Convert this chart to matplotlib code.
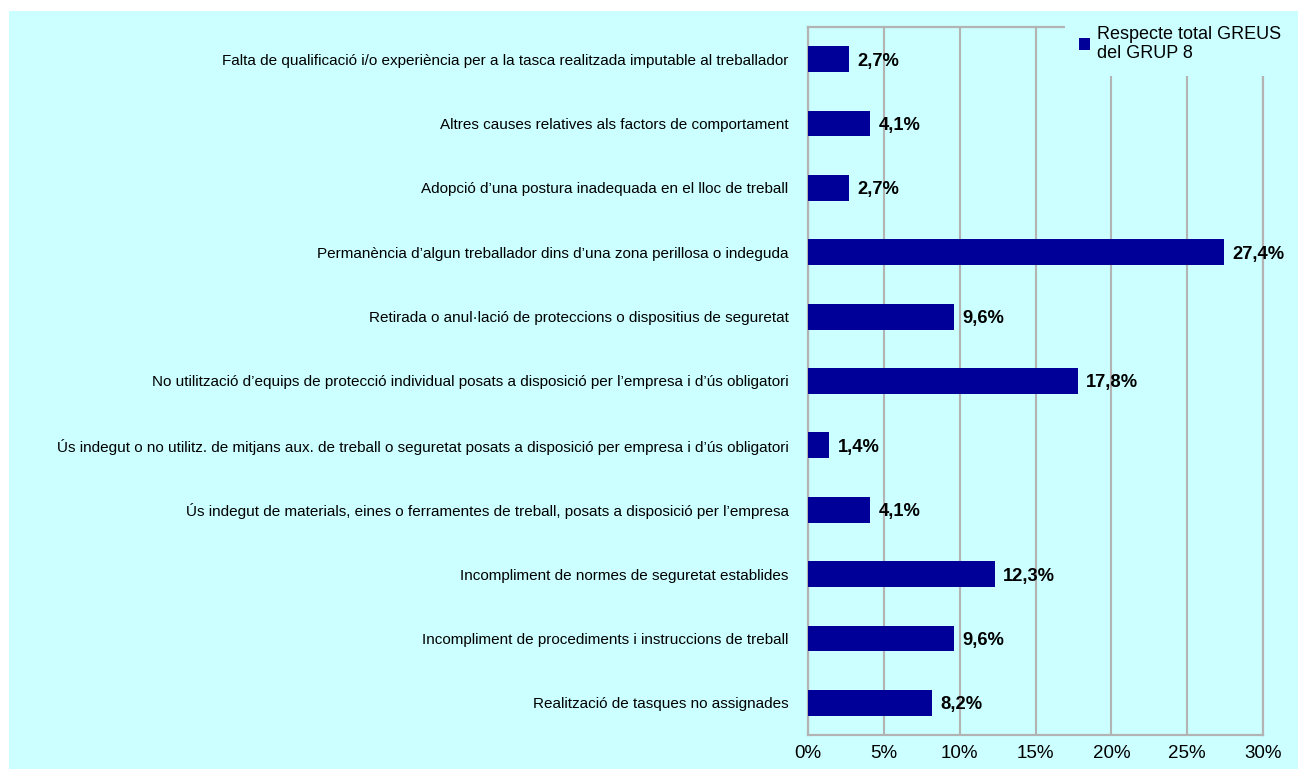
import matplotlib
matplotlib.use("Agg")
import matplotlib.pyplot as plt
from matplotlib.patches import Rectangle

plt.rcParams['font.family'] = ['Liberation Sans', 'DejaVu Sans']

# Causes, listed top to bottom as shown on the chart
categories = [
    "Falta de qualificació i/o experiència per a la tasca realitzada imputable al treballador",
    "Altres causes relatives als factors de comportament",
    "Adopció d’una postura inadequada en el lloc de treball",
    "Permanència d’algun treballador dins d’una zona perillosa o indeguda",
    "Retirada o anul·lació de proteccions o dispositius de seguretat",
    "No utilització d’equips de protecció individual posats a disposició per l’empresa i d’ús obligatori",
    "Ús indegut o no utilitz. de mitjans aux. de treball o seguretat posats a disposició per empresa i d’ús obligatori",
    "Ús indegut de materials, eines o ferramentes de treball, posats a disposició per l’empresa",
    "Incompliment de normes de seguretat establides",
    "Incompliment de procediments i instruccions de treball",
    "Realització de tasques no assignades",
]
values = [2.7, 4.1, 2.7, 27.4, 9.6, 17.8, 1.4, 4.1, 12.3, 9.6, 8.2]
series_name = "Respecte total GREUS\ndel GRUP 8"
x_ticks = [0, 5, 10, 15, 20, 25, 30]
x_tick_labels = [f"{t}%" for t in x_ticks]

BG = "#CCFFFF"
BAR = "#000099"
GRID = "#B3B3B3"

W, H = 1298, 769
fig = plt.figure(figsize=(W / 100, H / 100), dpi=100, facecolor="white")

# light cyan chart area with a thin white margin at top and left
fig.patches.append(Rectangle((9 / W, 0), 1 - 9 / W, 1 - 11 / H,
                             transform=fig.transFigure, facecolor=BG,
                             edgecolor="none", zorder=-5))

left, right, top, bottom = 808, 1263, 27, 735
ax = fig.add_axes([left / W, 1 - bottom / H, (right - left) / W, (bottom - top) / H])
ax.set_facecolor(BG)

ypos = list(range(len(categories)))
bars = ax.barh(ypos, values, height=0.4, color=BAR, zorder=3, label=series_name)

for y, v in zip(ypos, values):
    ax.annotate(f"{v:.1f}".replace(".", ",") + "%", xy=(v, y), xytext=(6, 0),
                textcoords="offset points", va="center_baseline", ha="left",
                fontsize=13.2, fontweight="bold", color="black", zorder=4)

ax.set_xlim(0, 30)
ax.set_ylim(len(categories) - 0.5, -0.5)
ax.set_xticks(x_ticks)
ax.set_xticklabels(x_tick_labels, fontsize=13.5)
ax.set_yticks(ypos)
ax.set_yticklabels(categories, fontsize=11)
ax.tick_params(axis="x", length=0, pad=7)
ax.tick_params(axis="y", length=0, pad=14)

ax.grid(axis="x", color=GRID, linewidth=1.5, zorder=1)
ax.grid(axis="y", visible=False)
for s in ax.spines.values():
    s.set_color(GRID)
    s.set_linewidth(1.6)

handle = Rectangle((0, 0), 1, 1, facecolor=BAR, edgecolor="none")
leg = ax.legend([handle], [series_name], loc="upper left",
                bbox_to_anchor=(1065 / W, 1 - 12 / H), bbox_transform=fig.transFigure,
                frameon=True, facecolor=BG, edgecolor=BG, fancybox=False, framealpha=1,
                fontsize=13, borderaxespad=0, borderpad=0.75,
                handlelength=0.62, handleheight=0.62, handletextpad=0.42)
leg.set_zorder(10)
leg.get_frame().set_linewidth(0)

fig.savefig("out.png", dpi=100, facecolor=fig.get_facecolor())
